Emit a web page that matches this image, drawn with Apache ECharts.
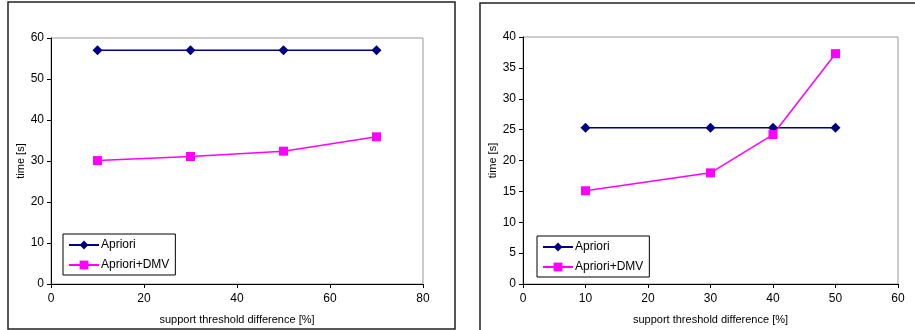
<!DOCTYPE html>
<html>
<head>
<meta charset="utf-8">
<script src="https://cdn.jsdelivr.net/npm/echarts@6/dist/echarts.min.js"></script>
<style>
  html, body { margin: 0; padding: 0; background: #fff; }
  #chart { width: 915px; height: 330px; }
</style>
</head>
<body>
<div id="chart"></div>
<script>
// left chart data
const leftX = [10, 30, 50, 70];
const leftApriori = [57, 57, 57, 57];
const leftDmv = [30.1, 31.1, 32.4, 35.9];
// right chart data
const rightX = [10, 30, 40, 50];
const rightApriori = [25.3, 25.3, 25.3, 25.3];
const rightDmv = [15.1, 18.0, 24.2, 37.3];

const seriesNames = ['Apriori', 'Apriori+DMV'];
const font = 'Liberation Sans, Arial, sans-serif';

function pairs(xs, ys) {
  return xs.map((x, i) => [x, ys[i]]);
}

function xAxisOf(idx, max, interval) {
  return {
    type: 'value', gridIndex: idx, min: 0, max: max, interval: interval,
    name: 'support threshold difference [%]', nameLocation: 'middle', nameGap: 30,
    nameTextStyle: { fontFamily: font, fontSize: 11, color: '#000' },
    axisLine: { lineStyle: { color: '#000', width: 1 } },
    axisTick: { show: true, length: 4, lineStyle: { color: '#000' } },
    axisLabel: { fontFamily: font, fontSize: 12, color: '#000', margin: 9 },
    splitLine: { show: false }
  };
}

function yAxisOf(idx, max, interval) {
  return {
    type: 'value', gridIndex: idx, min: 0, max: max, interval: interval,
    name: 'time [s]', nameLocation: 'middle', nameGap: 25,
    nameTextStyle: { fontFamily: font, fontSize: 11, color: '#000' },
    axisLine: { show: true, lineStyle: { color: '#000', width: 1 } },
    axisTick: { show: true, length: 4, lineStyle: { color: '#000' } },
    axisLabel: { fontFamily: font, fontSize: 12, color: '#000', margin: 7 },
    splitLine: { show: false }
  };
}

function legendOf(left, top) {
  return {
    data: seriesNames, orient: 'vertical', left: left, top: top,
    padding: [5, 6, 4, 5], itemGap: 8, itemWidth: 30, itemHeight: 11,
    borderColor: '#000', borderWidth: 1, backgroundColor: '#fff',
    textStyle: { fontFamily: font, fontSize: 12, color: '#000', padding: [0, 0, 0, -3] }
  };
}

function lineSeries(name, idx, data, symbol, size, color) {
  return {
    name: name, type: 'line', xAxisIndex: idx, yAxisIndex: idx,
    data: data, symbol: symbol, symbolSize: size,
    lineStyle: { color: color, width: 1.5 },
    itemStyle: { color: color },
    emphasis: { disabled: true }, animation: false
  };
}

let myChart = echarts.init(document.getElementById('chart'));
myChart.setOption({
  animation: false,
  graphic: [
    { type: 'rect', shape: { x: 8, y: 2, width: 447, height: 327 },
      style: { fill: 'none', stroke: '#222', lineWidth: 1.5 }, z: -1 },
    { type: 'rect', shape: { x: 480, y: 3, width: 450, height: 340 },
      style: { fill: 'none', stroke: '#222', lineWidth: 1.5 }, z: -1 }
  ],
  grid: [
    { left: 51, top: 38, width: 372, height: 246, show: true, borderColor: '#999', borderWidth: 1 },
    { left: 523, top: 37, width: 375, height: 250, show: true, borderColor: '#999', borderWidth: 1 }
  ],
  xAxis: [xAxisOf(0, 80, 20), xAxisOf(1, 60, 10)],
  yAxis: [yAxisOf(0, 60, 10), yAxisOf(1, 40, 5)],
  legend: [legendOf(63, 234), legendOf(537, 236)],
  series: [
    lineSeries('Apriori', 0, pairs(leftX, leftApriori), 'diamond', 10, '#000080'),
    lineSeries('Apriori+DMV', 0, pairs(leftX, leftDmv), 'rect', 9, '#ff00ff'),
    lineSeries('Apriori', 1, pairs(rightX, rightApriori), 'diamond', 10, '#000080'),
    lineSeries('Apriori+DMV', 1, pairs(rightX, rightDmv), 'rect', 9, '#ff00ff')
  ]
});
window.onresize = function () {
  myChart.resize();
};
</script>
</body>
</html>
